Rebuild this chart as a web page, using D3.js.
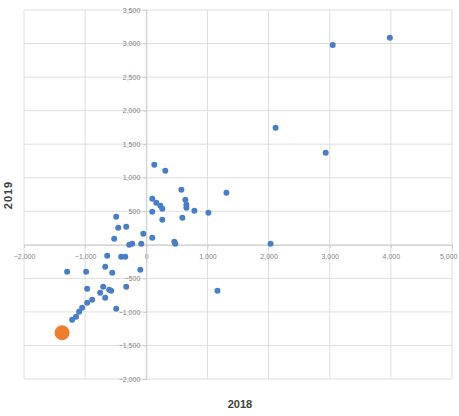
<!DOCTYPE html>
<html><head><meta charset="utf-8">
<script src="https://cdn.jsdelivr.net/npm/d3@7"></script>
<style>body{margin:0;background:#fff;}svg{display:block;font-family:"Liberation Sans",Arial,sans-serif;}</style>
</head><body><div id="chart"></div>
<script>
const xTicks = [-2000,-1000,0,1000,2000,3000,4000,5000];
const yTicks = [-2000,-1500,-1000,-500,0,500,1000,1500,2000,2500,3000,3500];
const xValues = [3049,3984,2115,2934,131,311,574,1311,98,164,230,262,639,656,656,787,1016,98,262,590,-492,-459,-328,-525,-49,98,-82,-230,-279,459,475,2033,-639,-410,-344,-1295,-984,-672,-557,-98,-328,-967,-705,-607,-754,-574,-672,-492,1164,-885,-967,-1049,-1098,-1148,-1213];
const yValues = [2980,3085,1744,1371,1192,1103,820,775,686,626,581,537,671,596,551,507,477,492,373,403,417,253,268,89,164,104,15,15,0,45,15,15,-164,-179,-179,-402,-402,-328,-417,-373,-626,-656,-626,-671,-715,-686,-790,-954,-686,-820,-864,-939,-998,-1073,-1118];
const highlightX = [-1377];
const highlightY = [-1311];
const xTitle = "2018", yTitle = "2019";

const W = 459, H = 416;
const svg = d3.select("#chart").append("svg").attr("width", W).attr("height", H);
const x = d3.scaleLinear().domain([-2000, 5000]).range([24, 452]);
const y = d3.scaleLinear().domain([-2000, 3500]).range([379, 10]);
const fmt = d3.format(",");

// gridlines
svg.append("g").selectAll("line").data(xTicks).join("line")
  .attr("x1", d => x(d)).attr("x2", d => x(d)).attr("y1", y(3500)).attr("y2", y(-2000))
  .attr("stroke", "#dedede").attr("stroke-width", 1);
svg.append("g").selectAll("line").data(yTicks).join("line")
  .attr("x1", x(-2000)).attr("x2", x(5000)).attr("y1", d => y(d)).attr("y2", d => y(d))
  .attr("stroke", "#dedede").attr("stroke-width", 1);

// axes crossing at zero
const xAxis = d3.axisBottom(x).tickValues(xTicks).tickFormat(fmt).tickSize(3).tickPadding(6);
const yAxis = d3.axisLeft(y).tickValues(yTicks.filter(d => d !== 0)).tickFormat(fmt).tickSize(3).tickPadding(3);
const gx = svg.append("g").attr("transform", `translate(0,${y(0)})`).call(xAxis);
const gy = svg.append("g").attr("transform", `translate(${x(0)},0)`).call(yAxis);
[gx, gy].forEach(g => {
  g.select(".domain").attr("stroke", "#cccccc");
  g.selectAll(".tick line").attr("stroke", "#cccccc");
  g.selectAll("text").attr("fill", "#7f7f7f").style("font-size", "7px");
});
gx.selectAll(".tick text").filter(d => d === 5000).attr("text-anchor", "end").attr("dx", 5);

// points
const pts = xValues.map((v, i) => ({x: v, y: yValues[i]}));
svg.append("g").selectAll("circle").data(pts).join("circle")
  .attr("cx", d => x(d.x)).attr("cy", d => y(d.y)).attr("r", 3)
  .attr("fill", "#4a7ec4");
svg.append("g").selectAll("circle").data(highlightX.map((v, i) => ({x: v, y: highlightY[i]}))).join("circle")
  .attr("cx", d => x(d.x)).attr("cy", d => y(d.y)).attr("r", 7.5)
  .attr("fill", "#ed7d31");

// titles
svg.append("text").attr("x", 240).attr("y", 408).attr("text-anchor", "middle")
  .attr("fill", "#404040").style("font-size", "11px").style("font-weight", "bold").text(xTitle);
svg.append("text").attr("transform", "translate(12,195) rotate(-90)").attr("text-anchor", "middle")
  .attr("fill", "#404040").style("font-size", "11px").style("font-weight", "bold").style("letter-spacing", "1px").text(yTitle);
</script></body></html>
